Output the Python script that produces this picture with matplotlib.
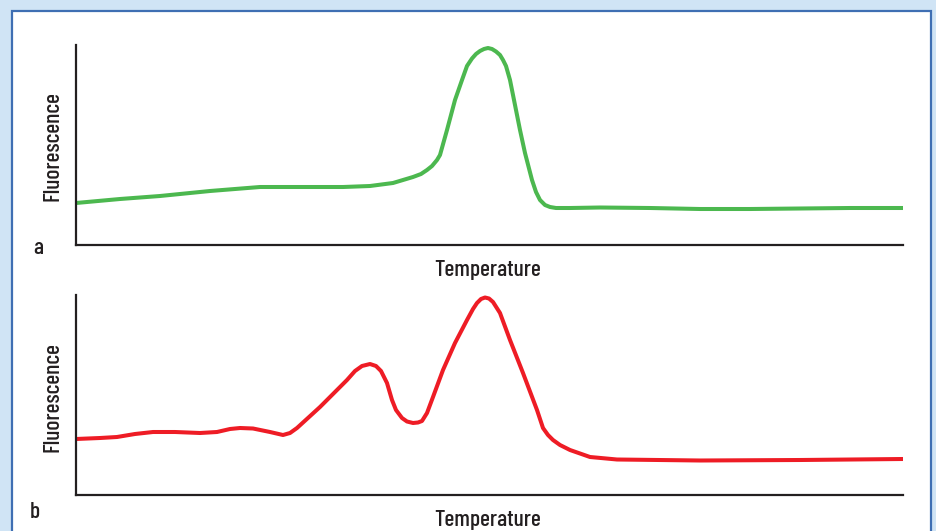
import numpy as np
import matplotlib.pyplot as plt
from matplotlib.patches import Rectangle

## Donnees (unites arbitraires)
temp_a = [0, 44, 84, 134, 184, 224, 267, 294, 317, 337, 345, 351, 356, 361, 364, 371, 379,
          386, 391, 396, 400, 404, 408, 412, 416, 420, 424, 427, 430, 434, 438, 444, 449,
          456, 460, 464, 469, 474, 480, 494, 524, 574, 624, 674, 724, 774, 827]
fluo_a = [42, 46, 49, 54, 58, 58, 58, 59, 62, 68, 71, 75, 79, 85, 90, 115, 145,
          165, 179, 186.5, 191, 194, 196, 197, 196, 193.5, 190, 185, 179, 165, 145, 115, 92,
          65, 53, 45, 40, 38, 37, 37, 37.5, 37, 36, 36, 36.5, 37, 37]

temp_b = [0, 24, 41, 59, 77, 99, 124, 141, 154, 164, 177, 194, 207, 214, 221, 244, 271,
          279, 286, 294, 300, 305, 311, 316, 320, 326, 331, 337, 342, 346, 351, 357, 367,
          379, 391, 397, 401, 405, 409, 413, 417, 424, 434, 447, 461, 467, 472, 477, 484,
          494, 514, 541, 624, 724, 827]
fluo_b = [56, 57, 58, 61, 63, 63, 62, 63, 66, 67, 66.5, 63, 60, 62, 67, 88, 115,
          124, 129, 131, 129, 124, 112, 95, 85, 77, 73.5, 72, 72.5, 74, 82, 98, 125,
          152, 175, 186, 192, 196, 197.5, 196.5, 193, 182, 155, 122, 85, 67, 60, 55, 50,
          45, 38, 35.5, 34.5, 35, 36]

W, H = 936, 531
fig = plt.figure(figsize=(W/100, H/100), dpi=100)
fig.patch.set_facecolor('#d0e4f5')

# cadre blanc borde de bleu
fig.patches.append(Rectangle((12/W, -0.05), 919/W, (H-11)/H + 0.05, transform=fig.transFigure,
                             facecolor='white', edgecolor='#3f6fb3', lw=1.6, zorder=-5))

font = ['Barlow Condensed', 'Roboto Condensed', 'DejaVu Sans']
black = '#231f20'
fs = 17

def panneau(bottom_px, temp, fluo, color, lettre, ylab_y, lettre_xy):
    ax = fig.add_axes([76/W, (H-bottom_px)/H, 827/W, 200/H])
    ax.set_facecolor('none')
    ax.plot(temp, fluo, color=color, lw=2.9, solid_joinstyle='round', solid_capstyle='butt')
    ax.set_xlim(0, 827)
    ax.set_ylim(0, 200)
    for s in ['top', 'right']:
        ax.spines[s].set_visible(False)
    for s in ['left', 'bottom']:
        ax.spines[s].set_linewidth(1.6)
        ax.spines[s].set_color(black)
    ax.set_xticks([])
    ax.set_yticks([])
    fig.text(488/W, 1-(bottom_px+25)/H, 'Temperature', family=font, fontsize=fs,
             fontweight='medium', color=black, ha='center', va='center')
    fig.text(52/W, 1-ylab_y/H, 'Fluorescence', family=font, fontsize=fs, fontweight='medium',
             color=black, rotation=90, ha='center', va='center')
    fig.text(lettre_xy[0]/W, 1-lettre_xy[1]/H, lettre, family=font, fontsize=fs,
             fontweight='medium', color=black, ha='center', va='center')
    return ax

panneau(245, temp_a, fluo_a, '#4cb84f', 'a', 146, (38, 248))
panneau(495, temp_b, fluo_b, '#ee1c25', 'b', 397, (35, 512))

fig.savefig('out.png', dpi=100, facecolor=fig.get_facecolor())
